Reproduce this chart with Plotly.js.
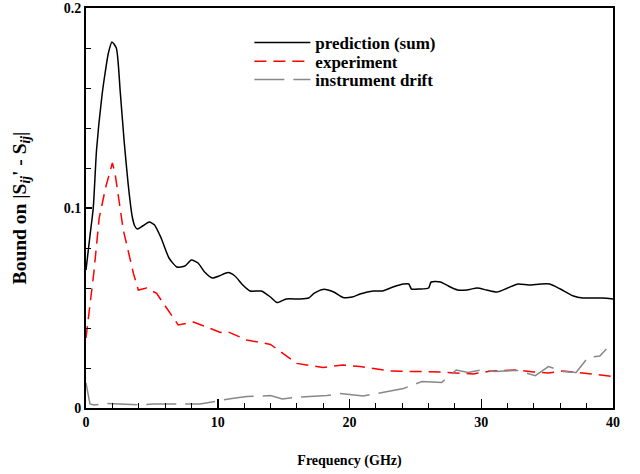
<!DOCTYPE html>
<html>
<head>
<meta charset="utf-8">
<script src="https://cdn.plot.ly/plotly-3.0.1.min.js"></script>
<style>html,body{margin:0;padding:0;background:#fff;}#chart{width:640px;height:474px;}</style>
</head>
<body>
<div id="chart"></div>
<script>
// prediction (sum)
const predFreq = [0, 0.3, 0.55, 0.8, 1.2, 1.45, 1.7, 1.97, 2.3, 2.6, 2.9, 3.2, 3.5, 3.7, 3.9, 4.3, 4.8, 5.2, 5.7, 6.3, 6.9, 7.5, 8.0, 8.5, 9.0, 9.6, 10.1, 10.8, 11.3, 11.9, 12.45, 13.0, 13.3, 14.0, 14.5, 15.2, 16.2, 16.9, 17.3, 18.0, 18.8, 19.5, 20.2, 20.8, 21.8, 22.5, 23.3, 24.1, 24.5, 24.7, 25.3, 26.0, 26.2, 26.9, 27.5, 28.2, 28.9, 29.7, 30.4, 31.2, 32.0, 32.8, 33.6, 34.5, 35.2, 36.0, 37.0, 37.7, 38.5, 39.2, 40];
const predVal  = [0.069, 0.086, 0.100, 0.129, 0.1555, 0.1675, 0.1775, 0.183, 0.180, 0.158, 0.133, 0.112, 0.096, 0.091, 0.0895, 0.091, 0.093, 0.0915, 0.085, 0.075, 0.0705, 0.071, 0.074, 0.0725, 0.068, 0.065, 0.066, 0.0677, 0.066, 0.0615, 0.0585, 0.0585, 0.0585, 0.0555, 0.0527, 0.0545, 0.0545, 0.055, 0.0573, 0.0593, 0.058, 0.0553, 0.0555, 0.057, 0.0585, 0.0585, 0.0605, 0.062, 0.062, 0.0595, 0.0595, 0.060, 0.063, 0.063, 0.061, 0.059, 0.059, 0.060, 0.059, 0.058, 0.060, 0.062, 0.0615, 0.062, 0.062, 0.0595, 0.056, 0.055, 0.055, 0.055, 0.0545];

// experiment
const expFreq = [0, 0.3, 0.6, 1.0, 1.5, 2.0, 2.2, 2.83, 3.6, 3.97, 4.6, 5.36, 7.0, 8.15, 10.2, 10.8, 12.2, 14.0, 16.0, 18.0, 19.5, 20.8, 21.6, 23.1, 26.9, 29.4, 30.7, 32.7, 34.0, 35.1, 36.2, 40];
const expVal  = [0.035, 0.052, 0.068, 0.095, 0.1105, 0.1225, 0.1175, 0.089, 0.0673, 0.059, 0.060, 0.0573, 0.0415, 0.043, 0.0378, 0.038, 0.034, 0.0318, 0.0223, 0.0203, 0.0215, 0.0207, 0.020, 0.0185, 0.018, 0.017, 0.0185, 0.019, 0.018, 0.0175, 0.0185, 0.0158];

// instrument drift
const driftFreq = [0, 0.3, 0.6, 1.57, 4.1, 5.1, 7.9, 8.65, 11.2, 12.2, 14.0, 14.9, 15.7, 18.3, 19.3, 20.5, 21.05, 22.1, 24.1, 25.5, 27.0, 28.1, 29.0, 30.15, 31.0, 32.7, 34.1, 35.1, 36.2, 37.2, 38.1, 39.0, 39.5];
const driftVal  = [0.0125, 0.002, 0.0015, 0.0023, 0.0015, 0.002, 0.002, 0.002, 0.0049, 0.0057, 0.0062, 0.0045, 0.0052, 0.0062, 0.0073, 0.0065, 0.006, 0.0073, 0.0098, 0.0132, 0.0128, 0.019, 0.0177, 0.0193, 0.0182, 0.0188, 0.0162, 0.0207, 0.0183, 0.0178, 0.0253, 0.026, 0.0295];

const seriesNames = ['prediction (sum)', 'experiment', 'instrument drift'];
const xTickVals = [0, 10, 20, 30, 40];
const yTickVals = [0, 0.1, 0.2];
const yTickText = ['0', '0.1', '0.2'];

const FONT = 'Liberation Serif, Times New Roman, serif';

const traces = [
  {x: predFreq, y: predVal, name: seriesNames[0], mode: 'lines', legend: 'legend',
   line: {color: '#000000', width: 1.5, shape: 'spline', smoothing: 0.6}},
  {x: expFreq, y: expVal, name: seriesNames[1], mode: 'lines', legend: 'legend2',
   line: {color: '#ff0000', width: 1.5, dash: '12px,7px'}},
  {x: driftFreq, y: driftVal, name: seriesNames[2], mode: 'lines', legend: 'legend3',
   line: {color: '#888888', width: 1.5, dash: '30px,9px'}}
];

function legendAt(yPaper) {
  return {x: 0.31, y: yPaper, xanchor: 'left', yanchor: 'top',
          bgcolor: 'rgba(0,0,0,0)', borderwidth: 0,
          font: {family: FONT, size: 17, color: '#000', weight: 'bold'},
          itemwidth: 56};
}

const layout = {
  width: 640, height: 474,
  margin: {l: 86, r: 27, t: 8, b: 66},
  paper_bgcolor: '#ffffff', plot_bgcolor: '#ffffff',
  font: {family: FONT, size: 14, color: '#000000', weight: 'bold'},
  showlegend: true,
  legend: legendAt(0.9575),
  legend2: legendAt(0.911),
  legend3: legendAt(0.865),
  xaxis: {
    range: [0, 40], tickvals: xTickVals, ticks: 'inside', ticklen: 9, tickwidth: 1.5, tickcolor: '#000',
    minor: {dtick: 2, ticks: 'inside', ticklen: 5, tickwidth: 1, tickcolor: '#000', showgrid: false},
    showline: true, mirror: true, linewidth: 2, linecolor: '#000',
    showgrid: false, zeroline: false,
    tickfont: {family: FONT, size: 14, weight: 'bold'},
    title: {text: 'Frequency (GHz)', font: {family: FONT, size: 14, weight: 'bold'}, standoff: 26}
  },
  yaxis: {
    range: [0, 0.2], tickvals: yTickVals, ticktext: yTickText, ticks: 'inside', ticklen: 6, tickwidth: 1.5, tickcolor: '#000',
    minor: {dtick: 0.02, ticks: 'inside', ticklen: 5, tickwidth: 1, tickcolor: '#000', showgrid: false},
    showline: true, mirror: true, linewidth: 2, linecolor: '#000',
    showgrid: false, zeroline: false,
    tickfont: {family: FONT, size: 14, weight: 'bold'},
    title: {text: "Bound on |S<sub><i>ij</i></sub>' - S<sub><i>ij</i></sub>|", font: {family: FONT, size: 19.5, weight: 'bold'}, standoff: 32}
  }
};

Plotly.newPlot('chart', traces, layout, {staticPlot: true, displayModeBar: false});
</script>
</body>
</html>
